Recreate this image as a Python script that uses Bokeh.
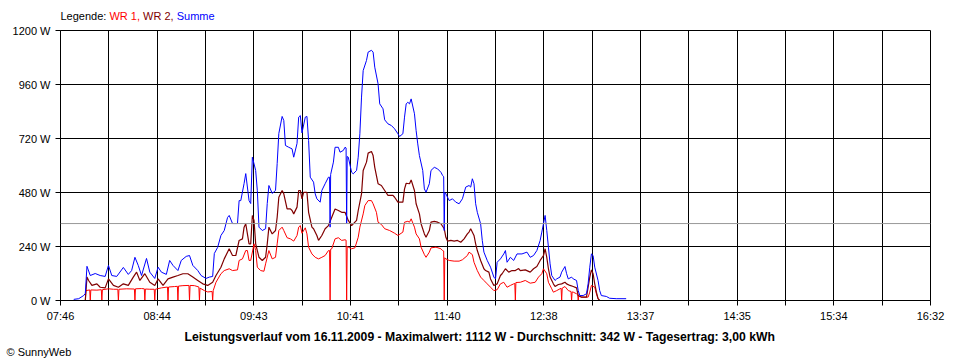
from bokeh.plotting import figure
from bokeh.models import Range1d, FixedTicker, CustomJSTickFormatter, Span, Title, Div
from bokeh.layouts import column
from bokeh.embed import file_html
from bokeh.resources import INLINE

# ---------------- data ----------------
x_tick_labels = ["07:46", "08:44", "09:43", "10:41", "11:40",
                 "12:38", "13:37", "14:35", "15:34", "16:32"]
y_ticks = [0, 240, 480, 720, 960, 1200]
average_w = 342
legend_texts = ["Legende:", "WR 1,", "WR 2,", "Summe"]
legend_colors = ["black", "#ff0000", "#800000", "#0000ff"]
title_text = ("Leistungsverlauf vom 16.11.2009 - Maximalwert: 1112 W - "
              "Durchschnitt: 342 W - Tagesertrag: 3,00 kWh")
copyright_text = "\u00a9 SunnyWeb"

wr1_time = [
    "08:01", "08:01:20", "08:03:40", "08:04", "08:04:20", "08:08", "08:10:40", "08:11", "08:11:20", "08:15",
    "08:18", "08:20:40", "08:21", "08:21:20", "08:26", "08:30:40", "08:31", "08:31:20", "08:35", "08:36:40",
    "08:37", "08:37:20", "08:40", "08:42:40", "08:43", "08:43:20", "08:47", "08:50:40", "08:51", "08:51:20",
    "08:55", "08:56:40", "08:57", "08:57:20", "09:00", "09:03:40", "09:04", "09:04:20", "09:07", "09:09:40",
    "09:10", "09:10:20", "09:13", "09:15", "09:17:40", "09:18", "09:18:20", "09:20", "09:23", "09:25",
    "09:28", "09:30", "09:33", "09:34", "09:36", "09:38", "09:39", "09:40", "09:41", "09:43",
    "09:44", "09:45", "09:47", "09:49", "09:50", "09:52", "09:54", "09:56", "09:57", "09:58",
    "10:00", "10:01", "10:03", "10:05", "10:07", "10:09", "10:10", "10:11", "10:12", "10:14",
    "10:15", "10:16", "10:18", "10:20", "10:22", "10:24", "10:26", "10:28", "10:28:40", "10:29",
    "10:29:20", "10:30", "10:32", "10:34", "10:36", "10:38", "10:38:40", "10:39", "10:39:20", "10:40",
    "10:42", "10:44", "10:46", "10:47", "10:49", "10:50", "10:52", "10:54", "10:55", "10:57",
    "10:58", "11:00", "11:02", "11:05", "11:08", "11:10", "11:13", "11:14", "11:16", "11:17",
    "11:18", "11:20", "11:21", "11:23", "11:24", "11:26", "11:27", "11:29", "11:30", "11:33",
    "11:36", "11:37", "11:37:40", "11:38", "11:38:20", "11:39", "11:41", "11:44", "11:47", "11:49",
    "11:52", "11:53", "11:55", "11:56", "11:58", "12:00", "12:02", "12:04", "12:06", "12:08",
    "12:10", "12:12", "12:14", "12:16", "12:18", "12:20", "12:20:40", "12:21", "12:21:20", "12:24",
    "12:27", "12:30", "12:33", "12:35", "12:37", "12:38", "12:40", "12:41", "12:43", "12:44",
    "12:46", "12:48", "12:48:40", "12:49", "12:49:20", "12:51", "12:53", "12:54:40", "12:55", "12:55:20",
    "12:56", "12:58", "12:58:40", "12:59", "12:59:20", "13:00", "13:01", "13:05", "13:06", "13:07",
    "13:09", "13:10", "13:11", "13:12"]
wr1_w = [
    0, 44, 47, 0, 47, 46, 48, 0, 48, 52,
    50, 50, 0, 50, 52, 51, 0, 52, 53, 52,
    0, 51, 50, 50, 0, 50, 56, 60, 0, 60,
    62, 63, 0, 64, 66, 67, 0, 67, 66, 60,
    0, 55, 44, 38, 40, 0, 44, 81, 119, 133,
    141, 133, 136, 178, 185, 222, 222, 178, 178, 252,
    222, 148, 133, 130, 163, 222, 185, 192, 252, 311,
    326, 311, 279, 274, 264, 289, 326, 333, 299, 323,
    296, 237, 207, 192, 185, 192, 200, 222, 222, 0,
    228, 230, 274, 279, 267, 270, 268, 0, 240, 237,
    230, 234, 281, 326, 385, 422, 444, 444, 430, 392,
    348, 338, 319, 311, 299, 289, 304, 348, 352, 348,
    363, 326, 296, 274, 237, 204, 192, 215, 234, 237,
    230, 222, 220, 0, 190, 185, 178, 175, 175, 181,
    200, 215, 204, 170, 133, 104, 89, 74, 59, 44,
    48, 74, 81, 59, 67, 74, 76, 0, 80, 81,
    89, 77, 81, 104, 119, 141, 119, 81, 52, 37,
    44, 52, 54, 0, 55, 62, 44, 40, 0, 38,
    37, 30, 28, 0, 20, 18, 15, 15, 37, 67,
    59, 30, 8, 0]

wr2_time = [
    "08:01", "08:02", "08:03", "08:05", "08:08", "08:10", "08:13", "08:15", "08:18", "08:21",
    "08:24", "08:27", "08:30", "08:32", "08:34", "08:37", "08:40", "08:43", "08:45", "08:48",
    "08:51", "08:54", "08:57", "09:00", "09:03", "09:06", "09:09", "09:12", "09:15", "09:18",
    "09:20", "09:23", "09:25", "09:28", "09:30", "09:32", "09:34", "09:36", "09:37", "09:38",
    "09:40", "09:41", "09:42", "09:43", "09:44", "09:46", "09:48", "09:50", "09:51", "09:52",
    "09:54", "09:56", "09:57", "09:58", "10:00", "10:01", "10:03", "10:05", "10:06", "10:07",
    "10:09", "10:10", "10:11", "10:12", "10:13", "10:15", "10:16", "10:18", "10:19", "10:21",
    "10:22", "10:24", "10:26", "10:28", "10:30", "10:32", "10:34", "10:36", "10:38", "10:40",
    "10:42", "10:45", "10:46", "10:48", "10:49", "10:51", "10:52", "10:54", "10:55", "10:56",
    "10:58", "11:00", "11:02", "11:04", "11:07", "11:08", "11:10", "11:13", "11:14", "11:15",
    "11:17", "11:18", "11:20", "11:21", "11:23", "11:24", "11:26", "11:27", "11:29", "11:30",
    "11:32", "11:34", "11:36", "11:38", "11:39", "11:40", "11:42", "11:44", "11:46", "11:48",
    "11:50", "11:52", "11:53", "11:54", "11:56", "11:57", "11:58", "12:00", "12:02", "12:03",
    "12:05", "12:06", "12:08", "12:10", "12:12", "12:13", "12:15", "12:17", "12:19", "12:21",
    "12:23", "12:24", "12:27", "12:30", "12:32", "12:34", "12:36", "12:38", "12:39", "12:40",
    "12:41", "12:42", "12:44", "12:45", "12:47", "12:49", "12:51", "12:52", "12:54", "12:56",
    "12:58", "12:59", "13:01", "13:04", "13:05", "13:06", "13:07", "13:08", "13:09", "13:10",
    "13:11", "13:12"]
wr2_w = [
    0, 104, 89, 67, 74, 59, 56, 96, 67, 59,
    74, 67, 104, 126, 89, 119, 81, 67, 96, 67,
    96, 104, 111, 119, 119, 104, 89, 74, 67, 81,
    111, 148, 185, 230, 200, 200, 267, 274, 326, 341,
    252, 252, 378, 356, 252, 192, 178, 192, 252, 326,
    296, 311, 370, 459, 489, 474, 407, 407, 400, 385,
    415, 489, 489, 452, 481, 481, 392, 326, 319, 289,
    267, 289, 319, 333, 370, 407, 400, 392, 392, 356,
    333, 356, 400, 474, 578, 615, 655, 662, 644, 592,
    519, 511, 489, 467, 467, 459, 437, 437, 496, 521,
    519, 536, 489, 430, 385, 341, 296, 281, 311, 348,
    352, 348, 341, 319, 281, 264, 267, 264, 267, 259,
    274, 296, 304, 319, 289, 252, 222, 178, 141, 133,
    126, 96, 67, 74, 111, 119, 141, 126, 133, 133,
    142, 133, 136, 126, 141, 151, 178, 200, 230, 192,
    141, 104, 74, 62, 71, 74, 81, 74, 67, 62,
    56, 22, 15, 15, 59, 104, 136, 119, 74, 37,
    8, 0]

summe_time = [
    "07:54", "07:57", "08:00", "08:01", "08:02", "08:04", "08:07", "08:10", "08:13", "08:15",
    "08:17", "08:20", "08:24", "08:27", "08:29", "08:31", "08:33", "08:35", "08:38", "08:40",
    "08:43", "08:45", "08:47", "08:50", "08:52", "08:54", "08:57", "08:59", "09:02", "09:04",
    "09:06", "09:09", "09:11", "09:14", "09:16", "09:18", "09:19", "09:21", "09:23", "09:25",
    "09:27", "09:28", "09:30", "09:33", "09:34", "09:35", "09:37", "09:38", "09:40", "09:41",
    "09:42", "09:44", "09:45", "09:46", "09:48", "09:50", "09:51", "09:52", "09:54", "09:56",
    "09:57", "09:58", "10:00", "10:01", "10:02", "10:04", "10:06", "10:07", "10:09", "10:10",
    "10:11", "10:12", "10:14", "10:15", "10:16", "10:17", "10:19", "10:20", "10:21", "10:23",
    "10:24", "10:26", "10:28", "10:28:40", "10:29", "10:29:20", "10:31", "10:32", "10:34", "10:35", "10:37",
    "10:38", "10:38:40", "10:39", "10:39:20", "10:40", "10:42", "10:43", "10:45", "10:46", "10:47", "10:48", "10:49",
    "10:51", "10:52", "10:54", "10:55", "10:56", "10:58", "10:59", "11:01", "11:02", "11:04",
    "11:06", "11:08", "11:10", "11:11", "11:13", "11:14", "11:15", "11:16", "11:17", "11:18",
    "11:20", "11:21", "11:22", "11:23", "11:25", "11:26", "11:27", "11:29", "11:30", "11:32",
    "11:34", "11:36", "11:37", "11:37:40", "11:38", "11:38:20", "11:39", "11:41", "11:43", "11:45", "11:47", "11:49",
    "11:51", "11:53", "11:54", "11:55", "11:56", "11:57", "11:58", "12:00", "12:01", "12:02",
    "12:04", "12:06", "12:08", "12:09", "12:10", "12:12", "12:14", "12:15", "12:16", "12:18",
    "12:20", "12:22", "12:25", "12:28", "12:30", "12:32", "12:34", "12:36", "12:37", "12:38",
    "12:39", "12:40", "12:41", "12:42", "12:43", "12:45", "12:46", "12:48", "12:49", "12:51",
    "12:52", "12:53", "12:55", "12:56", "12:58", "12:59", "13:00", "13:02", "13:04", "13:05",
    "13:06", "13:07", "13:08", "13:09", "13:11", "13:12", "13:13", "13:16", "13:18", "13:22",
    "13:28"]
summe_w = [
    5, 8, 22, 31, 152, 111, 120, 111, 107, 156,
    111, 107, 147, 116, 133, 192, 156, 111, 187, 126,
    98, 148, 126, 116, 178, 156, 133, 178, 196, 200,
    156, 133, 111, 98, 104, 107, 209, 236, 289, 311,
    369, 378, 342, 342, 444, 444, 520, 564, 444, 431,
    637, 578, 489, 326, 311, 319, 431, 511, 476, 489,
    609, 742, 818, 800, 689, 681, 674, 637, 698, 815,
    822, 745, 815, 818, 711, 548, 526, 474, 452, 437,
    489, 519, 548, 548, 326, 560, 615, 681, 681, 659, 667,
    681, 678, 341, 640, 637, 570, 563, 578, 637, 741, 904, 1022,
    1067, 1104, 1112, 1104, 1037, 963, 874, 852, 803, 785,
    778, 763, 741, 729, 741, 815, 874, 881, 874, 896,
    830, 756, 696, 644, 578, 496, 481, 519, 578, 592,
    585, 570, 556, 550, 311, 480, 474, 444, 452, 437, 430, 452,
    504, 511, 504, 541, 519, 430, 392, 341, 267, 215,
    178, 148, 104, 96, 170, 185, 207, 222, 170, 192,
    178, 207, 207, 215, 192, 200, 222, 267, 304, 341,
    378, 311, 237, 163, 111, 89, 96, 104, 126, 151,
    119, 96, 104, 96, 89, 44, 22, 22, 30, 74,
    148, 207, 200, 148, 89, 44, 22, 18, 10, 8,
    8]

# ---------------- helpers ----------------
def to_min(s):
    parts = [int(v) for v in s.split(":")]
    return parts[0] * 60 + parts[1] + (parts[2] / 60 if len(parts) > 2 else 0)

t0 = to_min(x_tick_labels[0])
t1 = to_min(x_tick_labels[-1])
n_grid = 2 * (len(x_tick_labels) - 1)
step = (t1 - t0) / n_grid
x_ticks = [t0 + i * step for i in range(n_grid + 1)]

FONT = "Liberation Sans"
W = 960
TOP_H = 23

# ---- top strip: coloured legend line as HTML ----
legend_html = " ".join(f'<span style="color:{c}">{t}</span>'
                       for t, c in zip(legend_texts, legend_colors))
top = Div(text=legend_html, width=W, height=TOP_H, margin=0,
          styles={"font-family": FONT, "font-size": "11px", "line-height": "13px",
                  "padding-left": "60.5px", "padding-top": "10px",
                  "box-sizing": "border-box", "white-space": "nowrap",
                  "overflow": "visible", "background-color": "white"})

# ---- main chart ----
p = figure(width=W, height=360 - TOP_H, output_backend="svg", toolbar_location=None,
           x_range=Range1d(t0, t1), y_range=Range1d(y_ticks[0], y_ticks[-1]),
           min_border_left=60, min_border_right=30, min_border_top=30 - TOP_H,
           min_border_bottom=60)
p.background_fill_color = "white"
p.border_fill_color = "white"
p.outline_line_color = "black"

xt = FixedTicker(ticks=x_ticks)
yt = FixedTicker(ticks=y_ticks)
p.xaxis.ticker = xt
p.yaxis.ticker = yt
p.xgrid.ticker = xt
p.ygrid.ticker = yt
p.xaxis.formatter = CustomJSTickFormatter(
    args=dict(labels=x_tick_labels, t0=t0, step=step),
    code="""
const k = Math.round((tick - t0) / step);
return (k % 2 == 0) ? labels[k / 2] : "";
""")
p.yaxis.formatter = CustomJSTickFormatter(code="return tick + ' W';")
for ax in (p.xaxis, p.yaxis):
    ax.major_tick_in = 0
    ax.major_tick_out = 5
    ax.minor_tick_line_color = None
    ax.axis_line_color = "black"
    ax.major_tick_line_color = "black"
    ax.major_label_text_font = FONT
    ax.major_label_text_font_size = "11px"
    ax.major_label_text_color = "black"
    ax.major_label_standoff = 5
p.xaxis.major_label_standoff = 4
for g in (p.xgrid, p.ygrid):
    g.grid_line_color = "black"
    g.grid_line_alpha = 1
    g.grid_line_width = 1

p.line([to_min(t) for t in wr1_time], wr1_w, line_color="#ff0000", line_width=1)
p.line([to_min(t) for t in wr2_time], wr2_w, line_color="#800000", line_width=1.2)
p.line([to_min(t) for t in summe_time], summe_w, line_color="#0000ff", line_width=1)

p.add_layout(Span(location=average_w, dimension="width",
                  line_color="#999999", line_width=1))

# ---- bottom texts as titles below the x axis ----
p.add_layout(Title(text=title_text, align="left", offset=124, standoff=6,
                   text_font=FONT, text_font_size="12.2px", text_font_style="bold",
                   text_color="black"), "below")
p.add_layout(Title(text=copyright_text, align="left", offset=-54, standoff=-6,
                   text_font=FONT, text_font_size="11px", text_font_style="normal",
                   text_color="black"), "below")

layout = column(top, p, spacing=0)
open("out.html", "w").write(file_html(layout, INLINE))
